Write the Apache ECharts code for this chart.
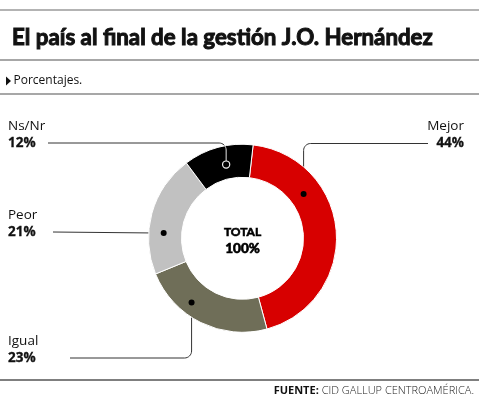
<!DOCTYPE html>
<html><head><meta charset="utf-8">
<script src="https://cdn.jsdelivr.net/npm/echarts@6/dist/echarts.min.js"></script>
<style>html,body{margin:0;padding:0;background:#fff}#c{width:479px;height:400px}</style>
</head><body><div id="c"></div>
<script>
// ---- data ----
const categories = ['Mejor', 'Igual', 'Peor', 'Ns/Nr'];
const values = [44, 23, 21, 12];
const colors = ['#d70000', '#6f6e58', '#c1c1c1', '#000000'];
const titleText = 'El país al final de la gestión J.O. Hernández';
const subtitleText = 'Porcentajes.';
const centerLabel = ['TOTAL', '100%'];
const sourceBold = 'FUENTE:';
const sourceText = ' CID GALLUP CENTROAMÉRICA.';

// ---- layout (positions/styles only) ----
const CX = 242.5, CY = 238.3, R_IN = 61, R_OUT = 94;
const START_OFFSET = 6.5; // degrees clockwise from 12 o'clock
const labelCfg = [
  { x: 464, top: 118,   align: 'right', lineStartX: 428, dotFrac: 0.30, dotR: 75.5, hollow: false },
  { x: 8,   top: 332.5, align: 'left',  lineStartX: 70,  dotFrac: 0.646, dotR: 82,  hollow: false },
  { x: 8,   top: 206.5, align: 'left',  lineStartX: 53,  dotFrac: 0.345, dotR: 79,  hollow: false },
  { x: 8,   top: 117.5, align: 'left',  lineStartX: 48,  dotFrac: 0.56, dotR: 75.5, hollow: true }
];
const LINE_H = 17;

const total = values.reduce((a, b) => a + b, 0);
function dotPos(i) {
  let before = 0;
  for (let j = 0; j < i; j++) before += values[j];
  const frac = (before + values[i] * labelCfg[i].dotFrac) / total;
  const th = (START_OFFSET + frac * 360) * Math.PI / 180;
  return [CX + labelCfg[i].dotR * Math.sin(th), CY - labelCfg[i].dotR * Math.cos(th)];
}
function leaderPoints(i) {
  const c = labelCfg[i];
  const ly = c.top + LINE_H * 1.5;
  const [dx, dy] = dotPos(i);
  if (Math.abs(dy - ly) < 3) return [[c.lineStartX, ly], [dx, dy]];
  const hs = Math.sign(dx - c.lineStartX), vs = Math.sign(dy - ly);
  const r = 7;
  const acx = dx - hs * r, acy = ly + vs * r;
  const pts = [[c.lineStartX, ly]];
  for (let k = 0; k <= 8; k++) {
    const t = (k / 8) * Math.PI / 2;
    pts.push([acx + hs * r * Math.sin(t), acy - vs * r * Math.cos(t)]);
  }
  pts.push([dx, dy]);
  return pts;
}

const FONT = '"Open Sans", "Noto Sans", sans-serif';
const chart = echarts.init(document.getElementById('c'), null, { renderer: 'canvas' });

const graphics = [
  { type: 'line', shape: { x1: 0, y1: 10, x2: 479, y2: 10 }, style: { stroke: '#9a9a9a', lineWidth: 1.5 } },
  { type: 'line', shape: { x1: 0, y1: 60, x2: 479, y2: 60 }, style: { stroke: '#8a8a8a', lineWidth: 1.3 } },
  { type: 'line', shape: { x1: 0, y1: 94, x2: 479, y2: 94 }, style: { stroke: '#8a8a8a', lineWidth: 1.3 } },
  { type: 'line', shape: { x1: 0, y1: 380, x2: 479, y2: 380 }, style: { stroke: '#555', lineWidth: 1.3 } },
  { type: 'polygon', shape: { points: [[6, 76.5], [6, 85.5], [11, 81]] }, style: { fill: '#111' } },
  { type: 'text', x: 13.5, y: 81, style: { text: subtitleText, font: '12px ' + FONT, fill: '#111', textVerticalAlign: 'middle' } },
  { type: 'text', x: 474, y: 391, style: {
      text: '{b|' + sourceBold + '}{n|' + sourceText + '}', align: 'right', verticalAlign: 'middle',
      rich: { b: { fontFamily: FONT, fontSize: 11, fontWeight: 'bold', fill: '#111' },
              n: { fontFamily: FONT, fontSize: 11, fontWeight: 300, fill: '#222' } } } },
  { type: 'text', x: CX, y: 232, style: { text: centerLabel[0], font: 'bold 12px Lato, "Open Sans", sans-serif', fill: '#000', stroke: '#000', lineWidth: 0.6, align: 'center', verticalAlign: 'middle' } },
  { type: 'text', x: CX, y: 249, style: { text: centerLabel[1], font: 'bold 13.5px Lato, "Open Sans", sans-serif', fill: '#000', stroke: '#000', lineWidth: 0.7, align: 'center', verticalAlign: 'middle' } }
];
categories.forEach((c, i) => {
  const [x, y] = dotPos(i);
  if (labelCfg[i].hollow) {
    // part of the leader inside the dark ring drawn light
    const pts = leaderPoints(i);
    const inside = [];
    for (let k = 0; k < pts.length; k++) {
      const d = Math.hypot(pts[k][0] - CX, pts[k][1] - CY);
      if (d <= R_OUT) {
        if (!inside.length && k > 0) {
          const vx = x - CX;
          inside.push([pts[k][0], CY - Math.sqrt(R_OUT * R_OUT - vx * vx)]);
        }
        inside.push(pts[k]);
      }
    }
    graphics.push({ type: 'polyline', z: 99, shape: { points: inside }, style: { stroke: '#e6e6e6', lineWidth: 1, fill: null } });
  }
  graphics.push({ type: 'circle', z: 100, shape: { cx: x, cy: y, r: labelCfg[i].hollow ? 3.6 : 3 },
    style: labelCfg[i].hollow ? { fill: '#000', stroke: '#eee', lineWidth: 1.2 } : { fill: '#000' } });
});

chart.setOption({
  backgroundColor: '#fff',
  animation: false,
  title: {
    text: titleText, left: 7, top: 22,
    textStyle: { fontFamily: 'Lato, sans-serif', fontWeight: 'bold', fontSize: 22.3, color: '#111', textBorderColor: '#111', textBorderWidth: 1 }
  },
  graphic: graphics,
  series: [{
    type: 'pie',
    center: [CX, CY],
    radius: [R_IN, R_OUT],
    startAngle: 90 - START_OFFSET,
    clockwise: true,
    avoidLabelOverlap: false,
    silent: true,
    emphasis: { disabled: true },
    itemStyle: { borderColor: '#fff', borderWidth: 1 },
    data: categories.map((c, i) => ({ name: c, value: values[i], itemStyle: { color: colors[i] } })),
    label: {
      show: true, position: 'outside',
      formatter: p => '{n|' + p.name + '}\n{p|' + p.value + '%}',
      rich: {
        n: { fontFamily: FONT, fontSize: 13.5, fontWeight: 500, color: '#111', lineHeight: LINE_H },
        p: { fontFamily: FONT, fontSize: 13.5, fontWeight: 'bold', color: '#111', lineHeight: LINE_H, textBorderColor: '#111', textBorderWidth: 0.3 }
      }
    },
    labelLine: { show: true, lineStyle: { color: '#333', width: 1 } },
    labelLayout: p => {
      const c = labelCfg[p.dataIndex];
      return { x: c.x, y: c.top, align: c.align, verticalAlign: 'top', labelLinePoints: leaderPoints(p.dataIndex) };
    }
  }]
});
</script></body></html>
